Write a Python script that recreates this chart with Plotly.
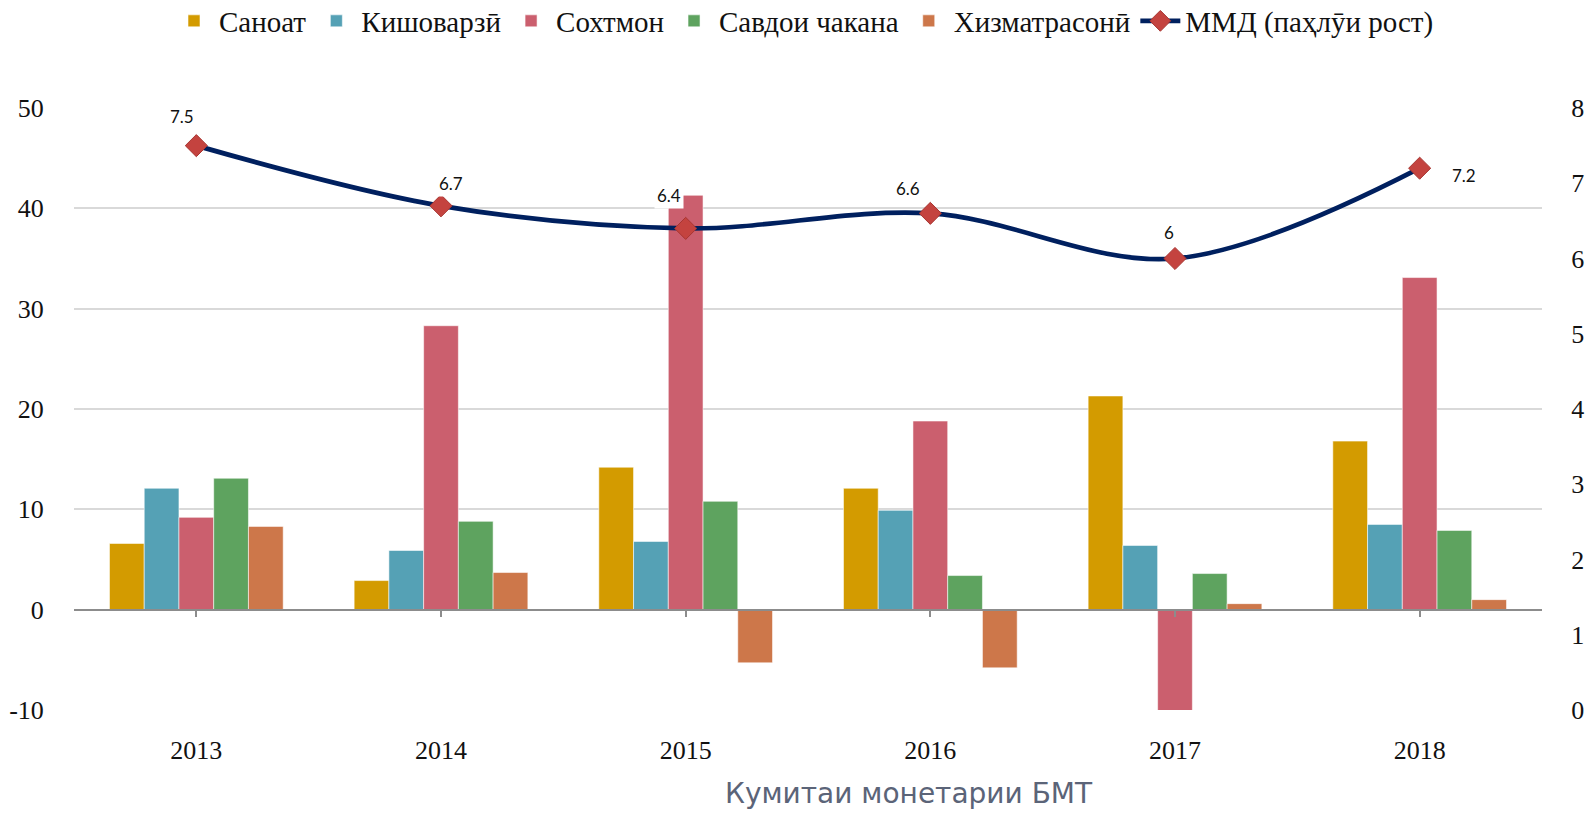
import plotly.graph_objects as go

# ---- data ----
years = ["2013", "2014", "2015", "2016", "2017", "2018"]
sanoat = [6.6, 2.9, 14.2, 12.1, 21.3, 16.8]
kishovarzi = [12.1, 5.9, 6.8, 9.9, 6.4, 8.5]
sokhtmon = [9.2, 28.3, 41.3, 18.8, -10.2, 33.1]
savdo = [13.1, 8.8, 10.8, 3.4, 3.6, 7.9]
khizmat = [8.3, 3.7, -5.3, -5.8, 0.6, 1.0]
mmd = [7.5, 6.7, 6.4, 6.6, 6.0, 7.2]

left_ticks = [-10, 0, 10, 20, 30, 40, 50]
left_tick_labels = ["-10", "0", "10", "20", "30", "40", "50"]
right_ticks = [0, 1, 2, 3, 4, 5, 6, 7, 8]
right_tick_labels = ["0", "1", "2", "3", "4", "5", "6", "7", "8"]

series_names = ["Саноат", "Кишоварзӣ", "Сохтмон", "Савдои чакана", "Хизматрасонӣ"]
line_name = "ММД (паҳлӯи рост)"
source_text = "Кумитаи монетарии БМТ"

# ---- styles ----
bar_colors = ["#D39B00", "#55A1B5", "#CB5F6E", "#5EA35F", "#CD774A"]
line_color = "#00205F"
marker_color = "#C4433F"
label_shifts = [(-14, 29), (10, 22), (-17, 33), (-22, 25), (-6, 26), (44, -7)]

W, H = 1587, 815
L, T = 74, 108
R = W - 1542
B = H - 710
PW, PH = W - L - R, H - T - B

serif = "Liberation Serif"

fig = go.Figure()
for name, vals, col in zip(series_names, [sanoat, kishovarzi, sokhtmon, savdo, khizmat], bar_colors):
    fig.add_trace(go.Bar(
        x=years, y=vals, name=name,
        marker=dict(color=col, line=dict(color="rgba(255,255,255,0.55)", width=1)),
    ))

fig.add_trace(go.Scatter(
    x=years, y=mmd, name=line_name, xaxis="x2", yaxis="y2",
    mode="lines+markers",
    line=dict(color=line_color, width=4.7, shape="spline", smoothing=1.0),
    marker=dict(symbol="diamond", size=17, color=marker_color,
                line=dict(color="#A83632", width=1)),
))

annotations = []
for i, (v, (dx, dy)) in enumerate(zip(mmd, label_shifts)):
    annotations.append(dict(
        x=i, y=v, xref="x", yref="y2", text=f"{v:g}", showarrow=False,
        xshift=dx, yshift=dy, bgcolor="white", borderpad=2,
        font=dict(family="Lato", size=17, color="#111111"),
    ))

annotations.append(dict(
    x=(908.8 - L) / PW, y=-(793 - 710) / PH,
    xref="paper", yref="paper", text=source_text, showarrow=False,
    xanchor="center", yanchor="middle",
    font=dict(family="DejaVu Sans", size=28, color="#5B6478"),
))

zero_pos = 10 / 60

fig.update_layout(
    width=W, height=H,
    margin=dict(l=L, r=R, t=T, b=B, pad=0, autoexpand=False),
    paper_bgcolor="white", plot_bgcolor="white",
    barmode="group", bargap=0.29, bargroupgap=0,
    showlegend=True,
    legend=dict(
        orientation="h", x=(804 - L) / PW, xanchor="center",
        y=1 + (108 - 21) / PH, yanchor="middle",
        font=dict(family=serif, size=29, color="#111111"),
        itemwidth=40, traceorder="normal", bgcolor="rgba(0,0,0,0)",
    ),
    xaxis=dict(
        type="category", categoryorder="array", categoryarray=years,
        range=[-0.5, 5.5], showgrid=False, showline=False, zeroline=False,
        ticks="outside", ticklen=17, tickcolor="rgba(0,0,0,0)",
        tickfont=dict(family=serif, size=26, color="#111111"),
    ),
    xaxis2=dict(
        type="category", categoryorder="array", categoryarray=years,
        overlaying="x", anchor="free", position=zero_pos,
        range=[-0.5, 5.5], showgrid=False, zeroline=False,
        showline=True, linecolor="#8C8C8C", linewidth=1.5,
        ticks="outside", ticklen=7, tickwidth=1.5, tickcolor="#8C8C8C",
        showticklabels=False,
    ),
    yaxis=dict(
        range=[-10, 50], tickmode="array", tickvals=left_ticks, ticktext=left_tick_labels,
        showgrid=True, gridcolor="#D9D9D9", gridwidth=1.5,
        zeroline=False, showline=False,
        ticks="outside", ticklen=24, tickcolor="rgba(0,0,0,0)",
        tickfont=dict(family=serif, size=26, color="#111111"),
    ),
    yaxis2=dict(
        range=[0, 8], tickmode="array", tickvals=right_ticks, ticktext=right_tick_labels,
        overlaying="y", side="right", anchor="x",
        showgrid=False, zeroline=False, showline=False,
        ticks="outside", ticklen=23, tickcolor="rgba(0,0,0,0)",
        tickfont=dict(family=serif, size=26, color="#111111"),
    ),
    annotations=annotations,
)

fig.write_html(
    "out.html",
    config={"displayModeBar": False},
    post_script="document.body.style.margin='0';document.body.style.overflow='hidden';",
)
